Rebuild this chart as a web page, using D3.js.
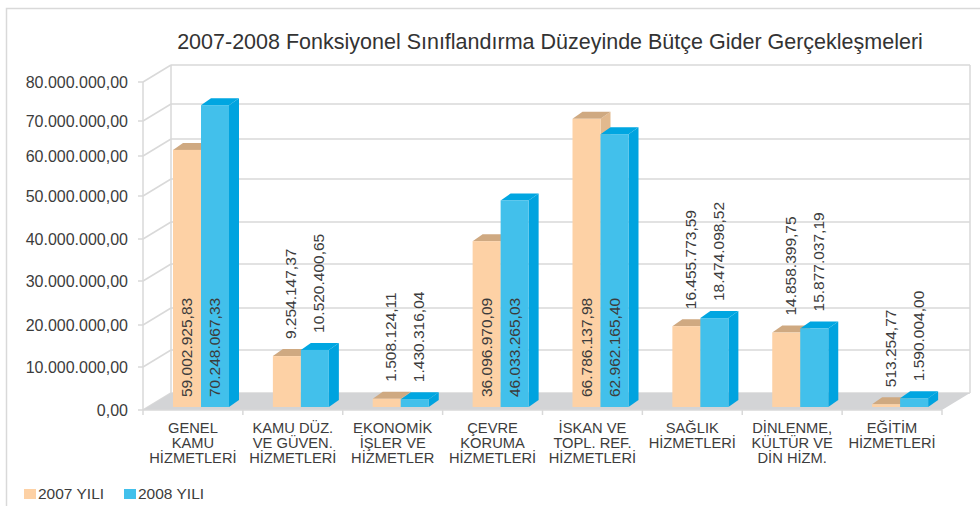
<!DOCTYPE html>
<html>
<head>
<meta charset="utf-8">
<script src="https://cdn.jsdelivr.net/npm/d3@7"></script>
<style>
  html, body { margin: 0; padding: 0; background: #ffffff; }
  svg { display: block; }
  text { font-family: "Liberation Sans", Arial, Helvetica, sans-serif; fill: #3c3c3c; }
</style>
</head>
<body>
<script>
// ---------- DATA ----------
const title = "2007-2008 Fonksiyonel Sınıflandırma Düzeyinde Bütçe Gider Gerçekleşmeleri";
const categories = [
  "GENEL|KAMU|HİZMETLERİ",
  "KAMU DÜZ.|VE GÜVEN.|HİZMETLERİ",
  "EKONOMİK|İŞLER VE|HİZMETLER",
  "ÇEVRE|KORUMA|HİZMETLERİ",
  "İSKAN VE|TOPL. REF.|HİZMETLERİ",
  "SAĞLIK|HİZMETLERİ",
  "DİNLENME,|KÜLTÜR VE|DİN HİZM.",
  "EĞİTİM|HİZMETLERİ"
];
const seriesNames = ["2007 YILI", "2008 YILI"];
const values2007 = [59002925.83, 9254147.37, 1508124.11, 36096970.09, 66786137.98, 16455773.59, 14858399.75, 513254.77];
const values2008 = [70248067.33, 10520400.65, 1430316.04, 46033265.03, 62962165.40, 18474098.52, 15877037.19, 1590004.00];
const yTicks = [0, 10000000, 20000000, 30000000, 40000000, 50000000, 60000000, 70000000, 80000000];

// ---------- SETUP ----------
const W = 980, H = 506;
const svg = d3.select("body").append("svg").attr("width", W).attr("height", H);

const tr = d3.formatLocale({decimal: ",", thousands: ".", grouping: [3], currency: ["", ""]});
const fmt = tr.format(",.2f");

const colors = {
  front: ["#FDD1A5", "#42C0EB"],
  top:   ["#CFA981", "#00A6E1"],
  side:  ["#E2B98E", "#00A3DF"]
};

// 3D geometry
const depthDX = 28, depthDY = -17;      // front plane -> back wall
const barDX = 10, barDY = -7;           // bar depth
const frontLeft = 143, frontRight = 942, frontBase = 410;

// back wall y scale (perspective-compressed, polylinear)
const wallY = d3.scaleLinear().domain(yTicks)
  .range([393, 350, 308, 264, 222, 179, 139, 104, 65]);
// bar heights (front faces of bars, in perspective)
const barY = d3.scaleLinear()
  .domain([0, 10e6, 20e6, 40e6, 60e6, 70e6, 80e6])
  .range([407, 352, 312, 224, 146, 106, 72]);

const x0 = d3.scaleBand().domain(categories).range([frontLeft, frontRight]);
const x1 = d3.scaleBand().domain([0, 1]).range([22, 78]);
const barShift = 8;

// ---------- BORDER ----------
svg.append("rect").attr("x", 6.5).attr("y", 8.5).attr("width", 1200).attr("height", 1200)
  .attr("fill", "none").attr("stroke", "#d9d9d9").attr("stroke-width", 1.5);

const grid = "#d9d9d9";

// ---------- WALLS ----------
const wallL = frontLeft + depthDX, wallR = frontRight + depthDX;
svg.append("g").selectAll("line").data(yTicks).join("line")
  .attr("x1", wallL).attr("x2", wallR)
  .attr("y1", d => wallY(d)).attr("y2", d => wallY(d))
  .attr("stroke", grid).attr("stroke-width", 1.5);
[wallL, wallR].forEach(xv => {
  svg.append("line").attr("x1", xv).attr("x2", xv)
    .attr("y1", wallY(80e6)).attr("y2", wallY(0))
    .attr("stroke", grid).attr("stroke-width", 1.5);
});
svg.append("g").selectAll("line").data(yTicks).join("line")
  .attr("x1", frontLeft).attr("y1", d => wallY(d) - depthDY)
  .attr("x2", wallL).attr("y2", d => wallY(d))
  .attr("stroke", grid).attr("stroke-width", 1.5);
svg.append("line").attr("x1", frontLeft).attr("x2", frontLeft)
  .attr("y1", wallY(80e6) - depthDY).attr("y2", frontBase)
  .attr("stroke", grid).attr("stroke-width", 1.5);
svg.append("g").selectAll("line").data(yTicks).join("line")
  .attr("x1", frontLeft - 5).attr("x2", frontLeft)
  .attr("y1", d => wallY(d) - depthDY).attr("y2", d => wallY(d) - depthDY)
  .attr("stroke", grid).attr("stroke-width", 1.5);

// floor
svg.append("path")
  .attr("d", `M${frontLeft},${frontBase} L${frontRight},${frontBase} L${wallR},${wallY(0)} L${wallL},${wallY(0)} Z`)
  .attr("fill", "#d3d4d6");
svg.append("line").attr("x1", frontLeft).attr("x2", frontRight)
  .attr("y1", frontBase).attr("y2", frontBase)
  .attr("stroke", grid).attr("stroke-width", 1.5);
const bounds = categories.map(c => x0(c)).concat([frontRight]);
svg.append("g").selectAll("line").data(bounds).join("line")
  .attr("x1", d => d).attr("x2", d => d)
  .attr("y1", frontBase).attr("y2", frontBase + 5)
  .attr("stroke", grid).attr("stroke-width", 1.5);

// ---------- Y LABELS ----------
svg.append("g").selectAll("text").data(yTicks).join("text")
  .attr("x", 128).attr("y", d => wallY(d) - depthDY)
  .attr("dy", "0.35em").attr("text-anchor", "end")
  .style("font-size", "16px")
  .text(d => fmt(d));

// ---------- BARS ----------
const seriesVals = [values2007, values2008];
const barsG = svg.append("g");
const labelsG = svg.append("g");
categories.forEach((cat, i) => {
  [0, 1].forEach(s => {
    const v = seriesVals[s][i];
    const x = x0(cat) + x1(s) + barShift;
    const w = x1.bandwidth();
    const base = barY(0);
    const top = barY(v);
    const g = barsG.append("g");
    g.append("path")
      .attr("d", `M${x + w},${top} L${x + w + barDX},${top + barDY} L${x + w + barDX},${base + barDY} L${x + w},${base} Z`)
      .attr("fill", colors.side[s]);
    g.append("path")
      .attr("d", `M${x},${top} L${x + w},${top} L${x + w + barDX},${top + barDY} L${x + barDX},${top + barDY} Z`)
      .attr("fill", colors.top[s]);
    g.append("rect").attr("x", x).attr("y", top).attr("width", w).attr("height", base - top)
      .attr("fill", colors.front[s]);

    const inside = v > 30e6;
    const lx = inside ? x + w / 2 : x + w / 2 + 4;
    const ly = inside ? base - 10 : top - 17;
    labelsG.append("text")
      .attr("transform", `translate(${lx},${ly}) rotate(-90)`)
      .attr("dy", "0.35em")
      .style("font-size", "15.5px")
      .text(fmt(v));
  });
});

// ---------- X LABELS ----------
const xl = svg.append("g");
categories.forEach(cat => {
  const lines = cat.split("|");
  const cx = x0(cat) + x0.bandwidth() / 2;
  const t = xl.append("text")
    .attr("x", cx).attr("y", 433)
    .attr("text-anchor", "middle")
    .style("font-size", "14.7px");
  lines.forEach((ln, k) => {
    t.append("tspan").attr("x", cx).attr("dy", k === 0 ? 0 : 15).text(ln);
  });
});

// ---------- TITLE ----------
svg.append("text").attr("x", 550).attr("y", 49).attr("text-anchor", "middle")
  .style("font-size", "21.5px").style("fill", "#333")
  .text(title);

// ---------- LEGEND ----------
const legX = [24, 124];
seriesNames.forEach((n, s) => {
  svg.append("rect").attr("x", legX[s]).attr("y", 489).attr("width", 12).attr("height", 10)
    .attr("fill", colors.front[s]);
  svg.append("text").attr("x", legX[s] + 14).attr("y", 499)
    .style("font-size", "15.5px").text(n);
});
</script>
</body>
</html>
